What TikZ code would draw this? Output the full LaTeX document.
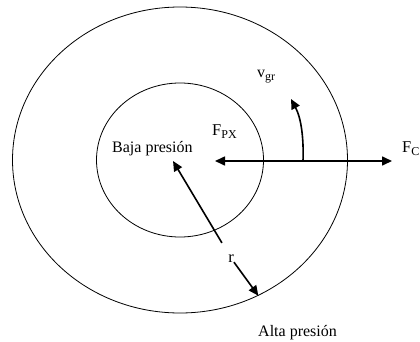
\documentclass[tikz,border=0pt]{standalone}
\usepackage{fontspec}
\setmainfont{Liberation Serif}
\usetikzlibrary{
  arrows.meta,
  shapes.geometric
}
\tikzset{
  zone/.style  = {draw, ellipse, line width=0.8pt, inner sep=0pt},
  force/.style = {-{Triangle[length=10pt,width=9pt]}, line width=1.6pt},
  note/.style  = {inner sep=0pt, anchor=base west,
                  font=\fontsize{16.5}{19}\selectfont},
}
\newcommand{\lowsub}[1]{\raisebox{-3pt}{\fontsize{12}{14}\selectfont #1}}

\begin{document}
\begin{tikzpicture}[x=1pt, y=1pt]
\useasboundingbox (0,0) rectangle (420,341);

% high and low pressure zones
\node[zone, minimum width=335pt, minimum height=306pt] (alta) at (180,181) {};
\node[zone, minimum width=167pt, minimum height=154pt] (baja) at (180,181) {};

% labels
\node[note, font=\fontsize{16}{19}\selectfont] (bajalbl) at (112,189) {Baja presión};
\node[note, font=\fontsize{16}{19}\selectfont] (altalbl) at (258,5) {Alta presión};
\node[note, anchor=base] (r) at (231,79) {r};
\node[note] (fpx) at (212,206) {F\lowsub{PX}};
\node[note] (fc) at (402,189) {F\lowsub{C}};
\node[note, font=\fontsize{16}{19}\selectfont] (vgr) at (257,264) {v\lowsub{gr}};

% force line
\coordinate (west) at (215,180);
\coordinate (east) at (392,180);
\draw[force, {Triangle[length=10pt,width=9pt]}-{Triangle[length=10pt,width=9pt]}]
  (west) -- (east);

% rotation sense
\coordinate (vbase) at (303,180);
\coordinate (vtip)  at (291,242);
\draw[force] (vbase) to[out=88, in=-62, looseness=0.9] (vtip);

% radius
\coordinate (bajatip) at (173,180);
\draw[force, shorten <=13pt] (r) -- (bajatip);
\draw[force] (r) -- (alta.-60);
\end{tikzpicture}
\end{document}
